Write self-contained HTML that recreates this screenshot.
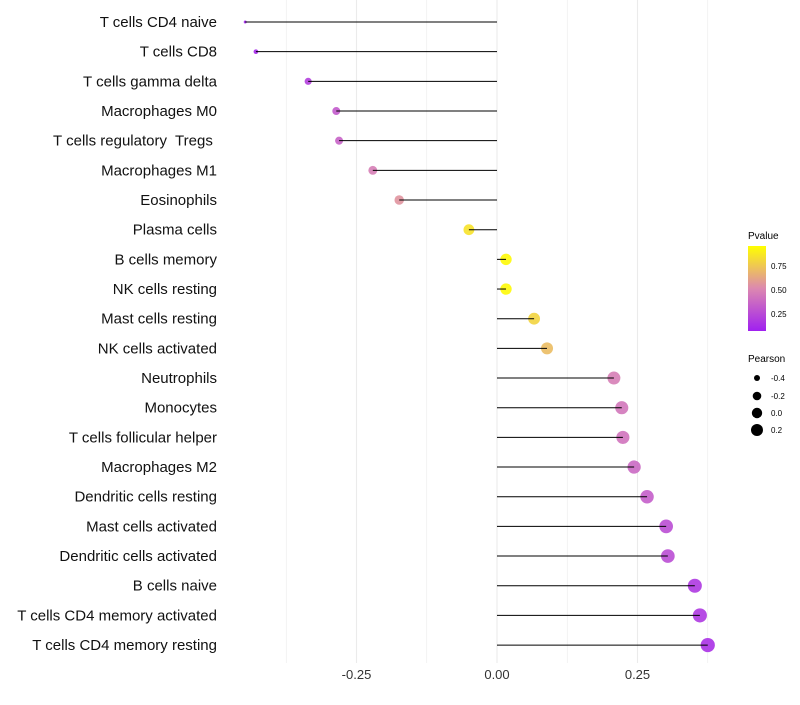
<!DOCTYPE html>
<html><head><meta charset="utf-8"><style>
body{margin:0;background:#fff;font-family:"Liberation Sans",sans-serif;}
svg text{font-family:"Liberation Sans",sans-serif;white-space:pre;}
</style></head><body>
<svg id="chart" width="800" height="700">
<defs><linearGradient id="pg" x1="0" y1="1" x2="0" y2="0">
<stop offset="0" stop-color="#a020f0"/><stop offset="0.5" stop-color="#dc88b0"/><stop offset="1" stop-color="#ffff00"/></linearGradient></defs>
<g id="grid"></g>
<g id="marks"></g>
<g id="ylab"></g>
<g id="xlab"></g>
<g>
<text x="748" y="239" font-size="10" fill="#000">Pvalue</text>
<rect x="748" y="246" width="18" height="85" fill="url(#pg)"/>
<text x="771" y="269" font-size="8">0.75</text>
<text x="771" y="293" font-size="8">0.50</text>
<text x="771" y="317" font-size="8">0.25</text>
</g>
<g>
<text x="748" y="362" font-size="10">Pearson</text>
<circle cx="757" cy="378" r="3"/><text x="771" y="381" font-size="8">-0.4</text>
<circle cx="757" cy="396" r="4.3"/><text x="771" y="399" font-size="8">-0.2</text>
<circle cx="757" cy="413" r="5.2"/><text x="771" y="416" font-size="8">0.0</text>
<circle cx="757" cy="430" r="6"/><text x="771" y="433" font-size="8">0.2</text>
</g>
</svg>
<script>
const categories=["T cells CD4 naive","T cells CD8","T cells gamma delta","Macrophages M0","T cells regulatory  Tregs ","Macrophages M1","Eosinophils","Plasma cells","B cells memory","NK cells resting","Mast cells resting","NK cells activated","Neutrophils","Monocytes","T cells follicular helper","Macrophages M2","Dendritic cells resting","Mast cells activated","Dendritic cells activated","B cells naive","T cells CD4 memory activated","T cells CD4 memory resting"];
const pearson=[-0.448,-0.429,-0.336,-0.286,-0.281,-0.221,-0.174,-0.050,0.016,0.016,0.066,0.089,0.208,0.222,0.224,0.244,0.267,0.301,0.304,0.352,0.361,0.375];
const pvalue=[0.02,0.04,0.15,0.28,0.32,0.45,0.55,0.88,0.98,0.98,0.82,0.72,0.45,0.42,0.40,0.35,0.30,0.22,0.22,0.12,0.12,0.08];
const xTicks=[-0.25,0,0.25];
const xTickLabels=["-0.25","0.00","0.25"];
const NS="http://www.w3.org/2000/svg";
const X=v=>497+v*562;
const Y=i=>22+i*29.67;
const R=v=>1.5+5.6*Math.sqrt(Math.max(0,(v+0.448)/0.823));
function lerp(a,b,t){return a.map((c,i)=>Math.round(c+(b[i]-c)*t));}
function col(p){const s=[[160,32,240],[220,136,176],[255,255,0]];const c=p<0.5?lerp(s[0],s[1],p/0.5):lerp(s[1],s[2],(p-0.5)/0.5);return `rgb(${c.join(',')})`;}
function mk(t,a,parent){const e=document.createElementNS(NS,t);for(const k in a)e.setAttribute(k,a[k]);parent.appendChild(e);return e;}
const grid=document.getElementById('grid'),marks=document.getElementById('marks'),yl=document.getElementById('ylab'),xl=document.getElementById('xlab');
[-0.375,-0.25,-0.125,0,0.125,0.25,0.375].forEach(v=>{
  const g=mk('line',{x1:X(v),x2:X(v),y1:0,y2:663,stroke:'#ebebeb','stroke-width':v*8%2==0?1.1:0.6},grid);
  
  
});
xTicks.forEach((v,i)=>{
  const t=mk('text',{x:X(v),y:679,'font-size':13,'text-anchor':'middle',fill:'#333'},xl);t.textContent=xTickLabels[i];
  
  
});
categories.forEach((c,i)=>{
  const t=mk('text',{x:217,y:Y(i)+5,'font-size':15,'text-anchor':'end',fill:'#111'},yl);t.textContent=c;
  
  
  const p=mk('circle',{cx:X(pearson[i]),cy:Y(i),r:R(pearson[i]),fill:col(pvalue[i]),'fill-opacity':0.9},marks);
  
  
  const l=mk('line',{x1:X(pearson[i]),x2:X(0),y1:Y(i),y2:Y(i),stroke:'#000','stroke-width':1},marks);
  
  
});
</script>
</body></html>
